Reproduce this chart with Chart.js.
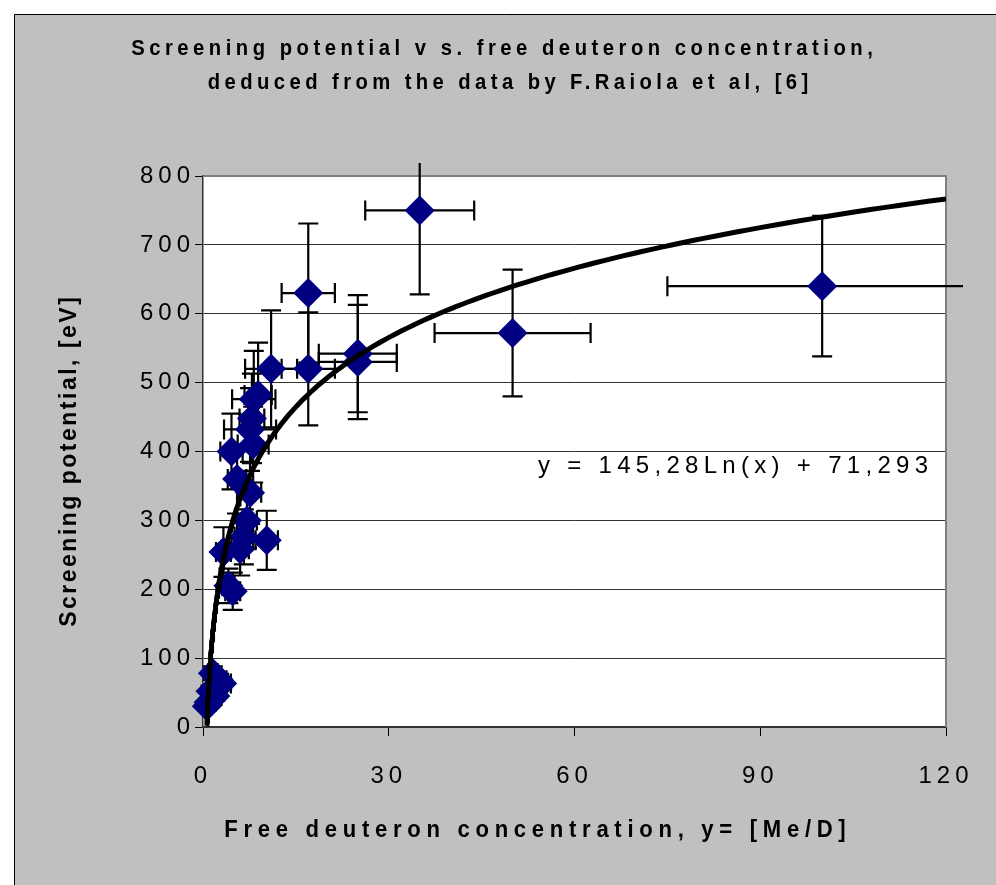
<!DOCTYPE html>
<html>
<head>
<meta charset="utf-8">
<title>Screening potential vs. free deuteron concentration</title>
<script src="https://cdn.jsdelivr.net/npm/chart.js@4.4.1/dist/chart.umd.min.js"></script>
<style>
  html, body { margin: 0; padding: 0; background: #fff; overflow: hidden; }
  #wrap { position: relative; width: 996px; height: 885px; }
</style>
</head>
<body>
<div id="wrap"><canvas id="screeningChart"></canvas></div>
<script>
// free deuteron concentration y [Me/D] and screening potential [eV]
const concentration = [100, 50, 35, 17, 17, 25, 25, 11,
  8.9, 8.2, 7.9, 7.6, 8.1, 4.6, 5.5, 7.6, 7.1, 10.3, 6.6, 6.0, 3.3, 4.1, 4.8,
  1.6, 2.6, 3.1, 1.2, 2.0, 0.9, 0.62];
const potential = [640, 572, 750, 630, 520, 542, 530, 520,
  482, 476, 448, 432, 410, 400, 360, 340, 300, 271, 276, 258, 254, 205, 197,
  78, 68, 63, 52, 45, 36, 30];
const concErr = [25, 12.6, 8.8, 4.3, 4.3, 6.3, 6.3, 4.2,
  2.2, 3.5, 2.0, 4.2, 2.5, 1.8, 1.5, 1.8, 1.6, 1.8, 1.5, 1.4, 1.2, 1.0, 1.2,
  0.8, 1.2, 1.4, 0.6, 1.0, 0.5, 0.4];
const potentialErr = [102, 92, 122, 101, 82, 85, 83, 85,
  76, 70, 65, 60, 55, 55, 50, 45, 40, 43, 40, 38, 36, 25, 27,
  10, 9, 8, 8, 7, 6, 6];

// logarithmic trendline from the sheet: y = 145,28 Ln(x) + 71,293
const trendA = 145.28;
const trendB = 71.293;
const trendLabel = 'y = 145,28Ln(x) + 71,293';

const xMin = 0, xMax = 120, xStep = 30;
const yMin = 0, yMax = 800, yStep = 100;

const titleLines = ['Screening potential v s. free deuteron concentration,',
                    'deduced from the data by F.Raiola et al, [6]'];
const xTitle = 'Free deuteron concentration, y= [Me/D]';
const yTitle = 'Screening potential, [eV]';

const FONT = "'Liberation Sans', Arial, sans-serif";

const points = concentration.map((c, i) => ({x: c, y: potential[i]}));

// trend curve points, denser near zero where it is steep
const trendPts = [];
const x0 = Math.min(...concentration);
for (let i = 0; i <= 240; i++) {
  const cx = x0 * Math.pow(xMax / x0, i / 240);
  trendPts.push({x: cx, y: trendA * Math.log(cx) + trendB});
}

// text with letter spacing and optional horizontal squeeze (Excel look)
function drawSpaced(ctx, str, x, y, font, spacing, align, sx) {
  sx = sx || 1;
  ctx.save();
  ctx.translate(x, y);
  ctx.scale(sx, 1);
  ctx.font = font;
  ctx.letterSpacing = spacing + 'px';
  ctx.textAlign = align;
  ctx.textBaseline = 'middle';
  let dx = 0;
  if (align === 'center') dx = spacing / 2;
  if (align === 'right') dx = spacing;
  ctx.fillText(str, dx, 0);
  ctx.restore();
}

const sheetPlugin = {
  id: 'sheet',
  beforeDraw(chart) {
    const {ctx, width, height, chartArea: a} = chart;
    ctx.save();
    ctx.fillStyle = '#fff';
    ctx.fillRect(0, 0, width, height);
    ctx.fillStyle = '#c0c0c0';
    ctx.fillRect(14, 14, width, height);
    ctx.strokeStyle = '#000';
    ctx.lineWidth = 1;
    ctx.beginPath();
    ctx.moveTo(14.5, height);
    ctx.lineTo(14.5, 14.5);
    ctx.lineTo(width, 14.5);
    ctx.stroke();
    ctx.fillStyle = '#fff';
    ctx.fillRect(a.left, a.top, a.right - a.left, a.bottom - a.top);
    ctx.restore();
    // wide tick labels like the original
    ctx.letterSpacing = '5px';
  },
  beforeDatasetsDraw(chart) {
    const {ctx, chartArea: a, scales: {x, y}} = chart;
    ctx.letterSpacing = '0px';
    ctx.save();
    ctx.strokeStyle = '#808080';
    ctx.lineWidth = 2;
    ctx.beginPath();
    ctx.moveTo(a.left, a.top);
    ctx.lineTo(a.right, a.top);
    ctx.lineTo(a.right, a.bottom);
    ctx.stroke();

    // error bars, under the markers
    ctx.beginPath();
    ctx.rect(a.left - 17, a.top - 13, a.right - a.left + 34, a.bottom - a.top + 30);
    ctx.clip();
    ctx.strokeStyle = '#000';
    ctx.lineWidth = 2.2;
    const cap = 10;
    concentration.forEach((c, i) => {
      const px = x.getPixelForValue(c);
      const py = y.getPixelForValue(potential[i]);
      const xl = x.getPixelForValue(c - concErr[i]);
      const xr = x.getPixelForValue(c + concErr[i]);
      const yb = y.getPixelForValue(potential[i] - potentialErr[i]);
      const yt = y.getPixelForValue(potential[i] + potentialErr[i]);
      ctx.beginPath();
      ctx.moveTo(xl, py); ctx.lineTo(xr, py);
      ctx.moveTo(xl, py - cap); ctx.lineTo(xl, py + cap);
      ctx.moveTo(xr, py - cap); ctx.lineTo(xr, py + cap);
      ctx.moveTo(px, yb); ctx.lineTo(px, yt);
      ctx.moveTo(px - cap, yb); ctx.lineTo(px + cap, yb);
      ctx.moveTo(px - cap, yt); ctx.lineTo(px + cap, yt);
      ctx.stroke();
    });
    ctx.restore();
  },
  afterDraw(chart) {
    const {ctx, scales: {x, y}} = chart;
    ctx.save();
    ctx.fillStyle = '#000';
    drawSpaced(ctx, titleLines[0], 502, 49, 'bold 22px ' + FONT, 4.9, 'center', 0.92);
    drawSpaced(ctx, titleLines[1], 508, 83, 'bold 22px ' + FONT, 4.8, 'center', 0.92);
    drawSpaced(ctx, xTitle, 535, 830, 'bold 24px ' + FONT, 6.2, 'center', 0.92);
    drawSpaced(ctx, trendLabel, x.getPixelForValue(54.1), y.getPixelForValue(379),
               '24px ' + FONT, 5.3, 'left');
    ctx.translate(70, 462);
    ctx.rotate(-Math.PI / 2);
    drawSpaced(ctx, yTitle, 0, 0, 'bold 23px ' + FONT, 2.5, 'center');
    ctx.restore();
    ctx.letterSpacing = '0px';
  }
};

const ctx = document.getElementById('screeningChart').getContext('2d');
new Chart(ctx, {
  type: 'scatter',
  data: {
    datasets: [{
      label: 'Trend',
      type: 'line',
      data: trendPts,
      borderColor: '#000',
      borderWidth: 5,
      pointRadius: 0,
      tension: 0,
      fill: false,
      order: 0
    }, {
      label: 'Screening potential',
      data: points,
      pointStyle: 'rectRot',
      pointRadius: 15,
      pointHoverRadius: 15,
      backgroundColor: '#000080',
      borderColor: '#000080',
      borderWidth: 0,
      clip: false,
      order: 1
    }]
  },
  options: {
    responsive: true,
    maintainAspectRatio: false,
    animation: false,
    events: [],
    layout: { padding: { left: 58, right: 50, top: 176, bottom: 0 } },
    plugins: {
      legend: { display: false },
      title: { display: false },
      tooltip: { enabled: false }
    },
    scales: {
      x: {
        type: 'linear',
        min: xMin,
        max: xMax,
        afterFit: s => { s.height = 158; },
        ticks: {
          stepSize: xStep,
          color: '#000',
          font: { family: FONT, size: 24 },
          padding: 26,
          maxRotation: 0
        },
        grid: {
          drawOnChartArea: false,
          drawTicks: true,
          tickLength: 9,
          tickColor: '#000',
          tickWidth: 1
        },
        border: { color: '#333', width: 1.5 }
      },
      y: {
        min: yMin,
        max: yMax,
        afterFit: s => { s.width = 145; },
        ticks: {
          stepSize: yStep,
          color: '#000',
          font: { family: FONT, size: 24 },
          padding: 0
        },
        grid: {
          color: '#333',
          lineWidth: 1,
          drawTicks: true,
          tickLength: 8,
          tickColor: '#000'
        },
        border: { color: '#333', width: 1.5 }
      }
    }
  },
  plugins: [sheetPlugin]
});
</script>
</body>
</html>
